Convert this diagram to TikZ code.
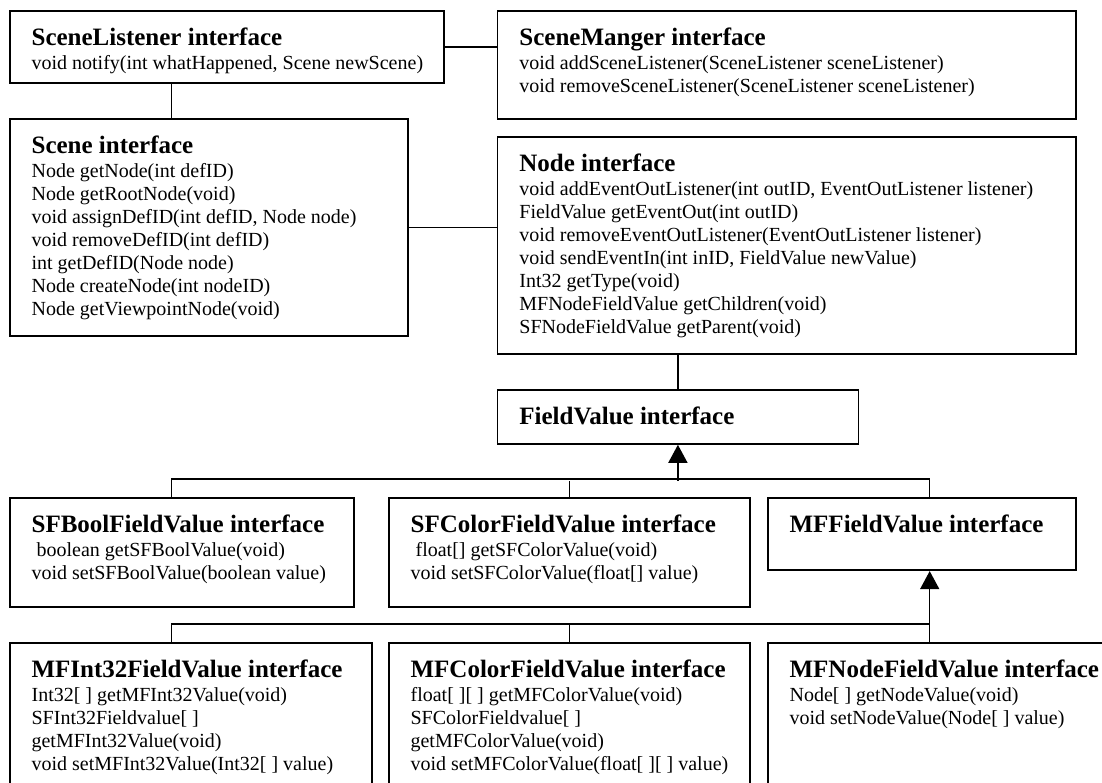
\documentclass[tikz,border=0pt]{standalone}
\usepackage{fontspec}
\setmainfont{Liberation Serif}
\usetikzlibrary{arrows.meta}
% fonts for the boxes
\newcommand{\ifacetitle}{\fontsize{25pt}{28pt}\selectfont\bfseries}
\newcommand{\ifacebody}{\fontsize{20pt}{23pt}\selectfont}
% box content: width, height, title, methods
\newcommand{\ifacebox}[4]{%
  \begin{minipage}[t][#2][t]{#1}%
    \leftskip=22pt
    \rule{0pt}{34.5pt}{\ifacetitle #3}%
    \ifx\relax#4\relax\else\\[1pt]\ifacebody #4\fi
  \end{minipage}}
\tikzset{
    %Define style for interface boxes
    iface/.style={
      rectangle,
      draw=black, line width=1.8pt,
      anchor=north west,
      inner sep=0pt},
    % Define connector styles
    conn/.style={
      line width=1.5pt},
    inherit/.style={
      conn,
      -{Triangle[length=18pt,width=19pt]}}
}
\begin{document}
\begin{tikzpicture}[x=1pt, y=-1pt]
    \useasboundingbox (0,0) rectangle (1102,783);
    \clip (0,0) rectangle (1102,783);
    % top part
    \node[iface] (slist) at (8.7,10) {\ifacebox{434.3pt}{72pt}{SceneListener interface}%
      {void notify(int whatHappened, Scene newScene)}};
    \node[iface] (smgr) at (496.5,10) {\ifacebox{578.5pt}{108pt}{SceneManger interface}%
      {void addSceneListener(SceneListener sceneListener)\\
       void removeSceneListener(SceneListener sceneListener)}};
    \node[iface] (scene) at (8.7,118.3) {\ifacebox{398.3pt}{216.7pt}{Scene interface}%
      {Node getNode(int defID)\\
       Node getRootNode(void)\\
       void assignDefID(int defID, Node node)\\
       void removeDefID(int defID)\\
       int getDefID(Node node)\\
       Node createNode(int nodeID)\\
       Node getViewpointNode(void)}};
    \node[iface] (node) at (496.5,136) {\ifacebox{578.5pt}{216.7pt}{Node interface}%
      {void addEventOutListener(int outID, EventOutListener listener)\\
       FieldValue getEventOut(int outID)\\
       void removeEventOutListener(EventOutListener listener)\\
       void sendEventIn(int inID, FieldValue newValue)\\
       Int32 getType(void)\\
       MFNodeFieldValue getChildren(void)\\
       SFNodeFieldValue getParent(void)}};
    \node[iface] (fval) at (496.5,389) {\ifacebox{361pt}{54pt}{FieldValue interface}{}};
    % middle row
    \node[iface] (sfbool) at (8.7,497) {\ifacebox{344pt}{109pt}{SFBoolFieldValue interface}%
      {\hspace*{5pt}boolean getSFBoolValue(void)\\
       void setSFBoolValue(boolean value)}};
    \node[iface] (sfcolor) at (387.7,497) {\ifacebox{361.6pt}{109pt}{SFColorFieldValue interface}%
      {\hspace*{5pt}float[] getSFColorValue(void)\\
       void setSFColorValue(float[] value)}};
    \node[iface] (mffval) at (766.7,497) {\ifacebox{308.3pt}{72.3pt}{MFFieldValue interface}{}};
    % bottom row
    \node[iface] (mfint) at (8.7,641.7) {\ifacebox{362pt}{200pt}{MFInt32FieldValue interface}%
      {Int32[ ] getMFInt32Value(void)\\
       SFInt32Fieldvalue[ ]\\
       getMFInt32Value(void)\\
       void setMFInt32Value(Int32[ ] value)}};
    \node[iface] (mfcolor) at (387.7,641.7) {\ifacebox{361.6pt}{200pt}{MFColorFieldValue interface}%
      {float[ ][ ] getMFColorValue(void)\\
       SFColorFieldvalue[ ]\\
       getMFColorValue(void)\\
       void setMFColorValue(float[ ][ ] value)}};
    \node[iface] (mfnode) at (766.7,641.7) {\ifacebox{380pt}{200pt}{MFNodeFieldValue interface}%
      {Node[ ] getNodeValue(void)\\
       void setNodeValue(Node[ ] value)}};
    % connectors
    \draw[conn] (slist.east) -- (slist.east -| smgr.west);
    \draw[conn] ([xshift=163pt]slist.south west) -- ([xshift=163pt]slist.south west |- scene.north);
    \draw[conn] (scene.east) -- (scene.east -| node.west);
    \draw[conn] (node.south -| fval.north) -- (fval.north);
    \draw[inherit] (fval.south) ++(0,36) coordinate (bus1) -- (fval.south);
    \draw[conn] ([xshift=163pt]sfbool.north west) -- ++(0,-18) -| ([xshift=163pt]mffval.north west);
    \draw[conn] (sfcolor.north) -- (sfcolor.north |- bus1);
    \draw[inherit] ([xshift=163pt]mfnode.north west) -- ([xshift=163pt]mffval.south west);
    \draw[conn] ([xshift=163pt]mfint.north west) -- ++(0,-17.7) -| ([xshift=163pt]mfnode.north west);
    \draw[conn] (mfcolor.north) -- ++(0,-17.7);
\end{tikzpicture}
\end{document}
